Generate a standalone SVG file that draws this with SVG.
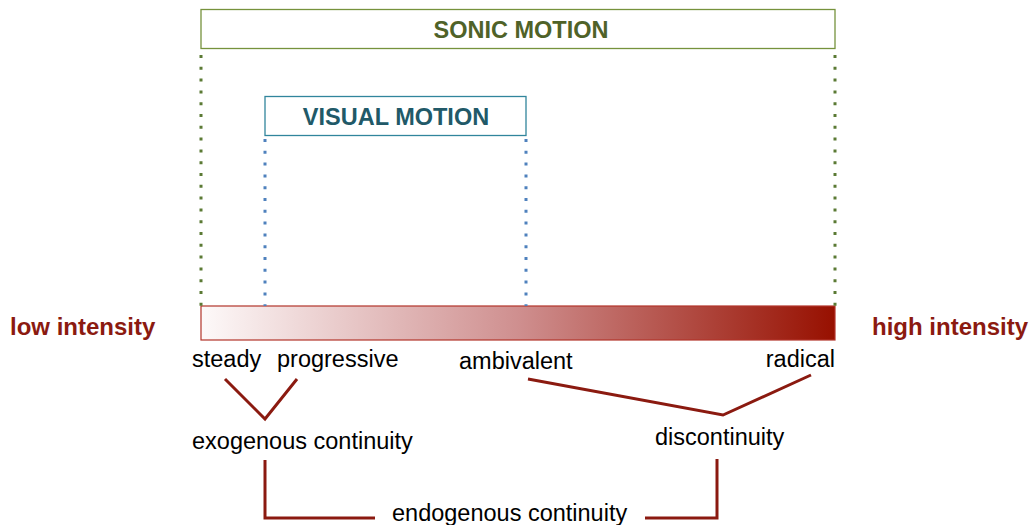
<svg xmlns="http://www.w3.org/2000/svg" width="1034" height="525" viewBox="0 0 1034 525">
<defs>
<linearGradient id="grad" x1="0" y1="0" x2="1" y2="0">
<stop offset="0" stop-color="#fdf9f9"/>
<stop offset="0.5" stop-color="#cf8f8f"/>
<stop offset="1" stop-color="#971000"/>
</linearGradient>
</defs>
<style>
text{font-family:"Liberation Sans",Arial,sans-serif;font-size:23.5px;fill:#000}
.title{font-weight:bold}
.int{font-weight:bold;fill:#8b1a10;font-size:24px}
.conn{fill:none;stroke:#8b1a10;stroke-width:3}
.gdot{stroke:#5b7a34;stroke-width:3;stroke-dasharray:3 8.8}
.bdot{stroke:#4f81bd;stroke-width:3;stroke-dasharray:3 8.8}
</style>
<rect width="1034" height="525" fill="#fff"/>
<g id="sonic">
<rect x="201" y="9.5" width="634" height="39" fill="#fff" stroke="#76923c" stroke-width="1.3"/>
<text class="title" x="521" y="38" text-anchor="middle" style="fill:#4f6228">SONIC MOTION</text>
</g>
<g id="visual">
<rect x="265" y="96.5" width="261" height="39" fill="#fff" stroke="#31859c" stroke-width="1.3"/>
<text class="title" x="396" y="125" text-anchor="middle" style="fill:#215968">VISUAL MOTION</text>
</g>
<g id="scale">
<rect x="201" y="306" width="634" height="34" fill="url(#grad)" stroke="#b2342a" stroke-width="1.2"/>
</g>
<g id="low"><text class="int" x="10" y="335">low intensity</text></g>
<g id="high"><text class="int" x="1028" y="335" text-anchor="end">high intensity</text></g>
<g id="steady"><text x="192" y="367">steady</text></g>
<g id="progressive"><text x="277" y="367">progressive</text></g>
<g id="ambivalent"><text x="459" y="369">ambivalent</text></g>
<g id="radical"><text x="835" y="367" text-anchor="end">radical</text></g>
<g id="exogenous"><text x="192" y="449">exogenous continuity</text></g>
<g id="discontinuity"><text x="655" y="445">discontinuity</text></g>
<g id="endogenous"><text x="392" y="521">endogenous continuity</text></g>
<g id="connectors">
<line class="gdot" x1="201" y1="55" x2="201" y2="306"/>
<line class="gdot" x1="835" y1="55" x2="835" y2="306"/>
<line class="bdot" x1="265" y1="139" x2="265" y2="306"/>
<line class="bdot" x1="526" y1="139" x2="526" y2="306"/>
<polyline class="conn" points="225,379 265,419 297,379"/>
<polyline class="conn" points="528,379 723,415 811,375"/>
<polyline class="conn" points="265,460 265,518 375,518"/>
<polyline class="conn" points="645,518 717,518 717,459"/>
</g>
</svg>
